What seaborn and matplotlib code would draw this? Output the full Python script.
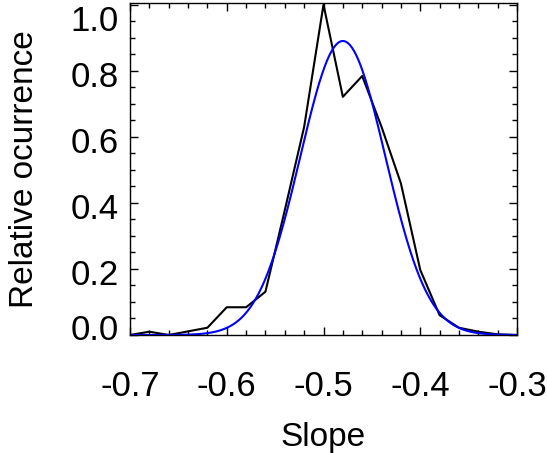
import matplotlib
matplotlib.use("Agg")
import matplotlib.pyplot as plt
import matplotlib.transforms as mtransforms
import seaborn as sns
import numpy as np
import pandas as pd
from matplotlib.ticker import MultipleLocator

# Histogram (relative occurrence) of slopes
slope_bins = [-0.70, -0.68, -0.66, -0.64, -0.62, -0.60, -0.58, -0.56, -0.54, -0.52,
              -0.50, -0.48, -0.46, -0.44, -0.42, -0.40, -0.38, -0.36, -0.34, -0.32, -0.30]
rel_occurrence = [0.0, 0.01, 0.0, 0.011, 0.022, 0.084, 0.084, 0.131, 0.378, 0.63,
                  1.0, 0.721, 0.784, 0.63, 0.459, 0.197, 0.06, 0.022, 0.01, 0.002, 0.0]

# Gaussian fit parameters
fit_amplitude = 0.89
fit_center = -0.480
fit_sigma = 0.044

x_ticks = [-0.7, -0.6, -0.5, -0.4, -0.3]
x_ticklabels = ["-0.7", "-0.6", "-0.5", "-0.4", "-0.3"]
y_ticks = [0.0, 0.2, 0.4, 0.6, 0.8, 1.0]
y_ticklabels = ["0.0", "0.2", "0.4", "0.6", "0.8", "1.0"]

sns.set_theme(style="ticks")
plt.rcParams['font.family'] = ['Liberation Sans', 'DejaVu Sans']

fig = plt.figure(figsize=(5.47, 4.53), dpi=100)
ax = fig.add_axes([130/547, 1-335/453, 387/547, 332/453])

df_hist = pd.DataFrame({"slope": slope_bins, "rel": rel_occurrence})
xfit = np.linspace(-0.7, -0.3, 400)
yfit = fit_amplitude * np.exp(-(xfit - fit_center) ** 2 / (2 * fit_sigma ** 2))
df_fit = pd.DataFrame({"slope": xfit, "rel": yfit})

sns.lineplot(data=df_hist, x="slope", y="rel", ax=ax, color="black", linewidth=1.5)
sns.lineplot(data=df_fit, x="slope", y="rel", ax=ax, color="#0000ff", linewidth=1.5)

ax.set_xlim(-0.7, -0.3)
ax.set_ylim(0, 1.005)
ax.set_xticks(x_ticks)
ax.set_xticklabels(x_ticklabels)
ax.set_yticks(y_ticks)
ax.set_yticklabels(y_ticklabels)
ax.xaxis.set_minor_locator(MultipleLocator(0.02))
ax.yaxis.set_minor_locator(MultipleLocator(0.05))

ax.tick_params(axis="both", which="both", direction="in", top=True, right=True,
               colors="black", labelcolor="black", labelsize=25)
ax.tick_params(which="major", length=6, width=1)
ax.tick_params(which="minor", length=3.5, width=1)
ax.tick_params(axis="x", which="major", pad=25)
ax.tick_params(axis="y", which="major", pad=8)

# IDL-like label placement: end labels kept inside the axis range
offsets_px = {"1.0": -13, "0.0": 8}
for lab in ax.get_yticklabels():
    dy = offsets_px.get(lab.get_text(), -3)
    lab.set_transform(lab.get_transform() +
                      mtransforms.ScaledTranslation(0, dy / 100, fig.dpi_scale_trans))

for s in ax.spines.values():
    s.set_visible(True)
    s.set_linewidth(1)
    s.set_color("black")

ax.set_xlabel("Slope", fontsize=24, labelpad=14, color="black")
ax.set_ylabel("Relative ocurrence", fontsize=24, labelpad=22, color="black")

fig.savefig("out.png", dpi=100)
